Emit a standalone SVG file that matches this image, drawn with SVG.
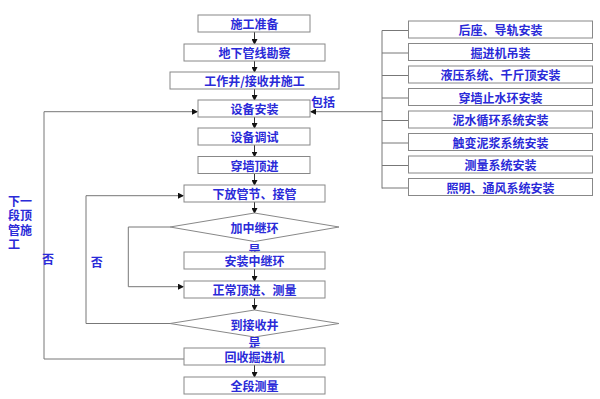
<svg xmlns="http://www.w3.org/2000/svg" width="600" height="399" viewBox="0 0 600 399">
<defs>
<marker id="ah" markerWidth="6" markerHeight="6" refX="5" refY="3" orient="auto" markerUnits="userSpaceOnUse">
<path d="M0,0 L6,3 L0,6 z" fill="#111"/>
</marker>
<style>
.b{fill:#fff;stroke:#888;stroke-width:1}
.t{font-family:"Noto Sans CJK SC","Liberation Serif",serif;font-size:12px;fill:#2a2ad8;text-anchor:middle;dominant-baseline:central;font-weight:bold}
.l{text-anchor:start}
.c{fill:none;stroke:#777;stroke-width:1}
.v{fill:none;stroke:#333;stroke-width:1;marker-end:url(#ah)}
</style>
</defs>
<rect width="600" height="399" fill="#fff"/>
<g id="connectors">
<path class="v" d="M254.5,32 V44"/>
<path class="v" d="M254.5,61 V72"/>
<path class="v" d="M254.5,89 V100"/>
<path class="v" d="M254.5,117 V128"/>
<path class="v" d="M254.5,145 V156.5"/>
<path class="v" d="M254.5,173.5 V185"/>
<path class="v" d="M254.5,202 V213"/>
<path class="v" d="M254.5,269 V281"/>
<path class="v" d="M254.5,298 V310"/>
<path class="v" d="M254.5,365 V377"/>
<path class="c" d="M184,359 H44 V111.7 H197" marker-end="url(#ah)"/>
<path class="c" d="M170,323.5 H86 V195.7 H183" marker-end="url(#ah)"/>
<path class="c" d="M170,227 H128.3 V286.7 H183" marker-end="url(#ah)"/>
<path class="c" d="M382,111.7 H311" marker-end="url(#ah)"/>
<path class="c" d="M382,30.5 V188.5 M382,30.5 H408 M382,53 H408 M382,75.5 H408 M382,98 H408 M382,120.5 H408 M382,143 H408 M382,165.5 H408 M382,188 H408"/>
</g>
<text class="t" x="323" y="101.5">包括</text>
<text class="t" x="48" y="258">否</text>
<text class="t" x="96.7" y="261.7">否</text>
<g id="label-next">
<text class="t l" x="8" y="200">下一</text>
<text class="t l" x="8" y="214.5">段顶</text>
<text class="t l" x="8" y="229">管施</text>
<text class="t l" x="8" y="243.5">工</text>
</g>
<g id="n1"><rect class="b" x="198" y="15" width="112" height="17"/><text class="t" x="254.5" y="23.5">施工准备</text></g>
<g id="n2"><rect class="b" x="184" y="44" width="141" height="17"/><text class="t" x="254.5" y="52.5">地下管线勘察</text></g>
<g id="n3"><rect class="b" x="170" y="72" width="169" height="17"/><text class="t" x="254.5" y="80.5">工作井/接收井施工</text></g>
<g id="n4"><rect class="b" x="198" y="100" width="112" height="17"/><text class="t" x="254.5" y="108.5">设备安装</text></g>
<g id="n5"><rect class="b" x="198" y="128" width="112" height="17"/><text class="t" x="254.5" y="136.5">设备调试</text></g>
<g id="n6"><rect class="b" x="198" y="156.5" width="112" height="17"/><text class="t" x="254.5" y="165">穿墙顶进</text></g>
<g id="n7"><rect class="b" x="184" y="185" width="141" height="17"/><text class="t" x="254.5" y="193.5">下放管节、接管</text></g>
<g id="d1"><polygon class="b" points="170,227 254.5,213 339,227 254.5,241.5"/><text class="t" x="254.5" y="227.5">加中继环</text><text class="t" x="254.5" y="249">是</text></g>
<g id="n8"><rect class="b" x="184" y="252" width="141" height="17"/><text class="t" x="254.5" y="260.5">安装中继环</text></g>
<g id="n9"><rect class="b" x="184" y="281" width="141" height="17"/><text class="t" x="254.5" y="289.5">正常顶进、测量</text></g>
<g id="d2"><polygon class="b" points="170,323.5 254.5,310 339,323.5 254.5,337"/><text class="t" x="254.5" y="324">到接收井</text><text class="t" x="254.5" y="342.5">是</text></g>
<g id="n10"><rect class="b" x="184" y="348" width="141" height="17"/><text class="t" x="254.5" y="356.5">回收掘进机</text></g>
<g id="n11"><rect class="b" x="184" y="377" width="141" height="17"/><text class="t" x="254.5" y="385.5">全段测量</text></g>
<g id="r1"><rect class="b" x="408.5" y="21" width="184" height="17"/><text class="t" x="500.5" y="29.5">后座、导轨安装</text></g>
<g id="r2"><rect class="b" x="408.5" y="43.5" width="184" height="17"/><text class="t" x="500.5" y="52">掘进机吊装</text></g>
<g id="r3"><rect class="b" x="408.5" y="66" width="184" height="17"/><text class="t" x="500.5" y="74.5">液压系统、千斤顶安装</text></g>
<g id="r4"><rect class="b" x="408.5" y="88.5" width="184" height="17"/><text class="t" x="500.5" y="97">穿墙止水环安装</text></g>
<g id="r5"><rect class="b" x="408.5" y="111" width="184" height="17"/><text class="t" x="500.5" y="119.5">泥水循环系统安装</text></g>
<g id="r6"><rect class="b" x="408.5" y="133.5" width="184" height="17"/><text class="t" x="500.5" y="142">触变泥浆系统安装</text></g>
<g id="r7"><rect class="b" x="408.5" y="156" width="184" height="17"/><text class="t" x="500.5" y="164.5">测量系统安装</text></g>
<g id="r8"><rect class="b" x="408.5" y="178.5" width="184" height="17"/><text class="t" x="500.5" y="187">照明、通风系统安装</text></g>
</svg>
